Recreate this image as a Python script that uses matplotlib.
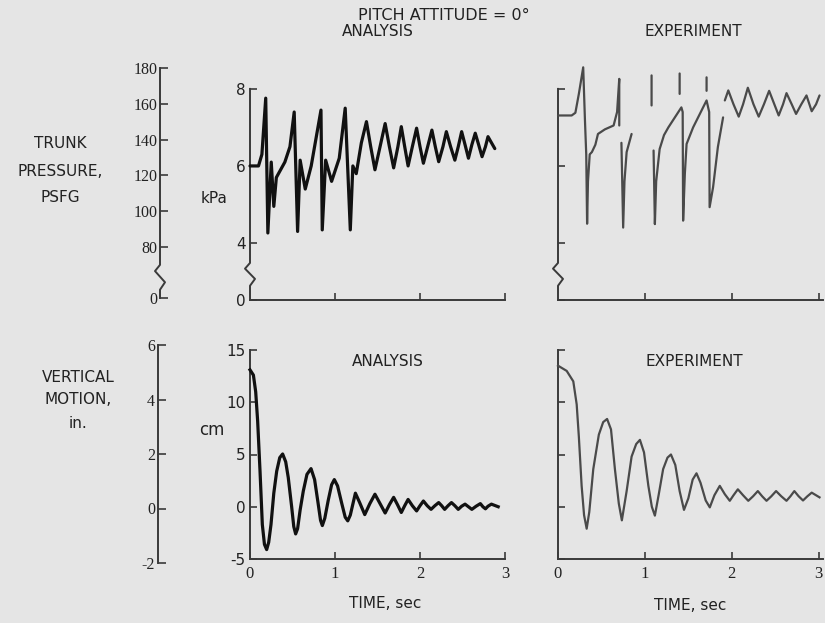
import numpy as np
import matplotlib
matplotlib.use('Agg')
import matplotlib.pyplot as plt

nan = np.nan

# ---------------- data ----------------
title = 'PITCH ATTITUDE = 0°'
panel_titles = ['ANALYSIS', 'EXPERIMENT']
time_label = 'TIME, sec'
time_ticks = [0, 1, 2, 3]
psfg_ticks = [0, 80, 100, 120, 140, 160, 180]
kpa_ticks = [0, 4, 6, 8]
inch_ticks = [-2, 0, 2, 4, 6]
cm_ticks = [-5, 0, 5, 10, 15]
pressure_label = ['TRUNK', 'PRESSURE,', 'PSFG']
motion_label = ['VERTICAL', 'MOTION,', 'in.']

# trunk pressure, analysis (time s, kPa)
ana_p_t = [0, 0.10, 0.14, 0.185, 0.21, 0.25, 0.28, 0.31, 0.41, 0.47, 0.52, 0.56,
           0.59, 0.65, 0.72, 0.835, 0.85, 0.89, 0.96, 1.05, 1.12, 1.18, 1.21, 1.25,
           1.31, 1.37, 1.42, 1.47, 1.53, 1.59, 1.64, 1.69, 1.74, 1.78, 1.82, 1.86,
           1.91, 1.96, 2.00, 2.04, 2.09, 2.14, 2.18, 2.22, 2.27, 2.31, 2.36, 2.41,
           2.45, 2.49, 2.53, 2.57, 2.61, 2.65, 2.69, 2.73, 2.77, 2.80, 2.88]
ana_p_v = [6.0, 6.0, 6.3, 7.76, 4.26, 6.1, 4.95, 5.7, 6.1, 6.5, 7.4, 4.3,
           6.15, 5.4, 6.0, 7.45, 4.34, 6.15, 5.6, 6.2, 7.5, 4.34, 6.0, 5.8,
           6.6, 7.15, 6.5, 5.9, 6.5, 7.1, 6.5, 5.95, 6.5, 7.02, 6.5, 6.0,
           6.5, 6.98, 6.5, 6.07, 6.5, 6.93, 6.5, 6.11, 6.5, 6.89, 6.5, 6.15,
           6.5, 6.89, 6.55, 6.2, 6.55, 6.85, 6.55, 6.24, 6.5, 6.76, 6.45]

# trunk pressure, experiment (time s, kPa); nan = gap in the trace
exp_p_t = [0, 0.157, 0.20, 0.24, 0.29, 0.31, 0.325, 0.335, 0.345, 0.365, 0.39, 0.43,
           0.46, 0.54, 0.64, 0.68, 0.705, 0.705, nan,
           0.73, 0.75, 0.765, 0.79, 0.847, nan,
           1.077, 1.077, nan,
           1.10, 1.115, 1.13, 1.17, 1.22, 1.27, 1.345, 1.42, 1.435, 1.44, 1.46, 1.48,
           1.555, 1.67, 1.71, 1.74, 1.745, 1.785, 1.84, 1.90, nan,
           1.40, 1.40, nan,
           1.71, 1.71, nan,
           1.92, 1.96, 2.02, 2.08, 2.13, 2.185, 2.25, 2.31, 2.37, 2.43, 2.49, 2.54,
           2.59, 2.63, 2.69, 2.74, 2.80, 2.86, 2.92, 2.97, 3.01]
exp_p_v = [7.31, 7.31, 7.38, 7.87, 8.56, 7.2, 6.3, 4.5, 5.6, 6.3, 6.36, 6.55,
           6.83, 6.95, 7.05, 7.4, 8.26, 7.05, nan,
           6.6, 4.40, 5.6, 6.36, 6.83, nan,
           8.35, 7.57, nan,
           6.4, 4.49, 5.6, 6.44, 6.8, 7.0, 7.26, 7.52, 7.4, 4.58, 5.8, 6.57,
           7.0, 7.52, 7.70, 7.4, 4.93, 5.45, 6.49, 7.26, nan,
           8.4, 7.87, nan,
           8.3, 7.95, nan,
           7.7, 7.96, 7.6, 7.28, 7.6, 8.03, 7.6, 7.28, 7.6, 7.95, 7.6, 7.31,
           7.6, 7.89, 7.6, 7.35, 7.6, 7.83, 7.42, 7.6, 7.83]

# vertical motion, analysis (time s, cm)
ana_z_t = [0, 0.04, 0.067, 0.09, 0.118, 0.145, 0.17, 0.196, 0.22, 0.247, 0.28, 0.314,
           0.35, 0.384, 0.42, 0.45, 0.49, 0.515, 0.537, 0.56, 0.59, 0.627, 0.67, 0.718,
           0.76, 0.80, 0.83, 0.851, 0.88, 0.92, 0.96, 0.992, 1.03, 1.08, 1.12, 1.15,
           1.18, 1.24, 1.29, 1.35, 1.41, 1.47, 1.53, 1.59, 1.64, 1.69, 1.735, 1.78,
           1.82, 1.86, 1.91, 1.96, 2.00, 2.04, 2.085, 2.13, 2.175, 2.22, 2.255, 2.29,
           2.33, 2.37, 2.41, 2.45, 2.49, 2.53, 2.57, 2.61, 2.66, 2.71, 2.74, 2.77,
           2.80, 2.84, 2.92]
ana_z_v = [13.1, 12.6, 11.0, 8.2, 3.4, -1.7, -3.6, -4.1, -3.4, -1.7, 1.3, 3.4,
           4.7, 5.05, 4.3, 2.8, 0.0, -1.9, -2.6, -2.1, -0.3, 1.5, 3.1, 3.65,
           2.6, 0.4, -1.3, -1.8, -1.1, 0.6, 2.1, 2.6, 2.0, 0.3, -1.0, -1.35,
           -0.8, 1.3, 0.4, -0.75, 0.3, 1.2, 0.3, -0.6, 0.2, 0.9, 0.2, -0.55,
           0.1, 0.7, 0.1, -0.4, 0.1, 0.55, 0.1, -0.25, 0.1, 0.4, 0.1, -0.25,
           0.1, 0.4, 0.1, -0.25, 0.05, 0.25, 0.0, -0.25, 0.05, 0.3, 0.0, -0.2,
           0.05, 0.25, 0.0]

# vertical motion, experiment (time s, cm)
exp_z_t = [0, 0.1, 0.176, 0.215, 0.24, 0.272, 0.30, 0.33, 0.36, 0.406, 0.47, 0.52,
           0.565, 0.61, 0.655, 0.70, 0.735, 0.79, 0.847, 0.90, 0.943, 0.99, 1.04, 1.08,
           1.115, 1.16, 1.21, 1.26, 1.30, 1.35, 1.40, 1.45, 1.50, 1.55, 1.594, 1.64,
           1.70, 1.747, 1.80, 1.862, 1.92, 1.977, 2.02, 2.07, 2.13, 2.19, 2.245, 2.30,
           2.35, 2.40, 2.455, 2.51, 2.57, 2.63, 2.675, 2.72, 2.77, 2.82, 2.87, 2.92, 3.01]
exp_z_v = [13.5, 13.0, 12.0, 9.8, 6.7, 2.0, -0.8, -2.1, -0.5, 3.6, 6.9, 8.1,
           8.4, 7.4, 3.6, 0.3, -1.3, 1.5, 4.8, 6.0, 6.4, 5.2, 2.0, 0.0,
           -0.85, 1.2, 3.6, 4.7, 5.0, 4.0, 1.5, -0.3, 0.8, 2.6, 3.2, 2.3,
           0.6, -0.06, 1.1, 2.0, 1.2, 0.57, 1.1, 1.67, 1.1, 0.57, 1.0, 1.5,
           1.0, 0.57, 1.0, 1.5, 1.0, 0.57, 1.0, 1.5, 1.0, 0.6, 1.0, 1.35, 0.9]

# ---------------- styling ----------------
plt.rcParams['font.family'] = ['Liberation Sans Narrow', 'DejaVu Sans']
BG = '#e5e5e5'
AX = '#3a3a3a'
INK = '#111111'
EXP = '#4a4a4a'
SERIF = ['Liberation Serif', 'DejaVu Serif']

W, H = 825, 623


def rect(l, r, t, b):
    return [l / W, 1 - b / H, (r - l) / W, (b - t) / H]


def broken(brk, k):
    def fwd(y):
        y = np.asarray(y, dtype=float)
        return np.where(y >= brk, y, brk - (brk - y) * k)

    def inv(y):
        y = np.asarray(y, dtype=float)
        return np.where(y >= brk, y, brk - (brk - y) / k)
    return fwd, inv


def yaxis_line(ax, wpx, lo, hi, brk=None):
    tr = ax.get_yaxis_transform()
    if brk is None:
        xs, ys = [0, 0], [lo, hi]
    else:
        b_hi, b_lo = brk
        d = 5.0 / wpx
        span = b_hi - b_lo
        xs = [0, 0, -d, d, 0, 0]
        ys = [hi, b_hi, b_hi - 0.25 * span, b_hi - 0.7 * span, b_lo, lo]
    ax.plot(xs, ys, transform=tr, color=AX, lw=1.4, clip_on=False)


def base(ax):
    ax.set_facecolor('none')
    for s in ax.spines.values():
        s.set_visible(False)
    ax.tick_params(axis='both', direction='in', color=AX, width=1.2, length=5,
                   labelsize=11, labelcolor='#222222', pad=3)


fig = plt.figure(figsize=(W / 100, H / 100), dpi=100)
fig.patch.set_facecolor(BG)

# ---- left-hand English-unit scales ----
ax_psf = fig.add_axes(rect(160, 161, 68, 298))
base(ax_psf)
ax_psf.set_yscale('function', functions=broken(80, 0.356))
ax_psf.set_ylim(0, 180)
ax_psf.set_xticks([])
ax_psf.set_yticks(psfg_ticks)
ax_psf.set_yticklabels([str(v) for v in psfg_ticks], fontfamily=SERIF, fontsize=11.5)
ax_psf.tick_params(axis='y', length=6, pad=2)
yaxis_line(ax_psf, 1, 0, 180, brk=(52, 13))

ax_in = fig.add_axes(rect(158, 159, 345, 563))
base(ax_in)
ax_in.set_ylim(-2, 6)
ax_in.set_xticks([])
ax_in.set_yticks(inch_ticks)
ax_in.set_yticklabels([str(v) for v in inch_ticks], fontfamily=SERIF, fontsize=11.5)
ax_in.tick_params(axis='y', length=6, pad=2)
yaxis_line(ax_in, 1, -2, 6)

# ---- pressure panels ----
p_axes = []
for i, (l, r, xmax) in enumerate([(250, 505, 3.0), (558, 823, 3.05)]):
    ax = fig.add_axes(rect(l, r, 60, 300))
    base(ax)
    ax.set_yscale('function', functions=broken(4, 0.37))
    ax.set_ylim(0, 8.75)
    ax.set_xlim(0, xmax)
    ax.spines['bottom'].set_visible(True)
    ax.spines['bottom'].set_color(AX)
    ax.spines['bottom'].set_linewidth(1.4)
    ax.set_xticks(time_ticks[1:])
    ax.set_xticklabels([])
    ax.set_yticks(kpa_ticks)
    if i == 0:
        ax.set_yticklabels([str(v) for v in kpa_ticks])
    else:
        ax.set_yticklabels([])
    yaxis_line(ax, r - l, 0, 8, brk=(2.6, 1.0))
    p_axes.append(ax)

p_axes[0].plot(ana_p_t, ana_p_v, color=INK, lw=2.3, clip_on=False,
               solid_joinstyle='round', solid_capstyle='round')
p_axes[1].plot(exp_p_t, exp_p_v, color=EXP, lw=1.6, clip_on=False,
               solid_joinstyle='round', solid_capstyle='round')

# ---- vertical-motion panels ----
z_axes = []
for i, (l, r, xmax) in enumerate([(250, 505, 3.0), (558, 823, 3.05)]):
    ax = fig.add_axes(rect(l, r, 350, 559))
    base(ax)
    ax.set_ylim(-5, 15)
    ax.set_xlim(0, xmax)
    ax.spines['bottom'].set_visible(True)
    ax.spines['bottom'].set_color(AX)
    ax.spines['bottom'].set_linewidth(1.4)
    ax.set_xticks(time_ticks)
    ax.set_xticklabels([str(v) for v in time_ticks], fontfamily=SERIF, fontsize=12)
    ax.tick_params(axis='x', pad=5)
    ax.set_yticks(cm_ticks)
    if i == 0:
        ax.set_yticklabels([str(v) for v in cm_ticks])
    else:
        ax.set_yticklabels([])
    yaxis_line(ax, r - l, -5, 15)
    z_axes.append(ax)

z_axes[0].plot(ana_z_t, ana_z_v, color=INK, lw=2.3, clip_on=False,
               solid_joinstyle='round')
z_axes[1].plot(exp_z_t, exp_z_v, color=EXP, lw=1.6, clip_on=False,
               solid_joinstyle='round')

# ---- texts ----
def ftext(x, y, s, **kw):
    kw.setdefault('fontsize', 11)
    kw.setdefault('color', '#222222')
    fig.text(x / W, 1 - y / H, s, ha=kw.pop('ha', 'center'), va='center', **kw)


ftext(444, 15, title, fontsize=11.5)
ftext(378, 32, panel_titles[0])
ftext(693, 32, panel_titles[1])
ftext(388, 362, panel_titles[0])
ftext(694, 362, panel_titles[1])
ftext(385, 604, time_label)
ftext(690, 606, time_label)
ftext(214, 198, 'kPa')
ftext(212, 430, 'cm', fontsize=12)
for s, y in zip(pressure_label, [143, 171, 197]):
    ftext(60, y, s)
for s, y in zip(motion_label, [378, 400, 424]):
    ftext(78, y, s)

fig.savefig('out.png', dpi=100, facecolor=BG)
